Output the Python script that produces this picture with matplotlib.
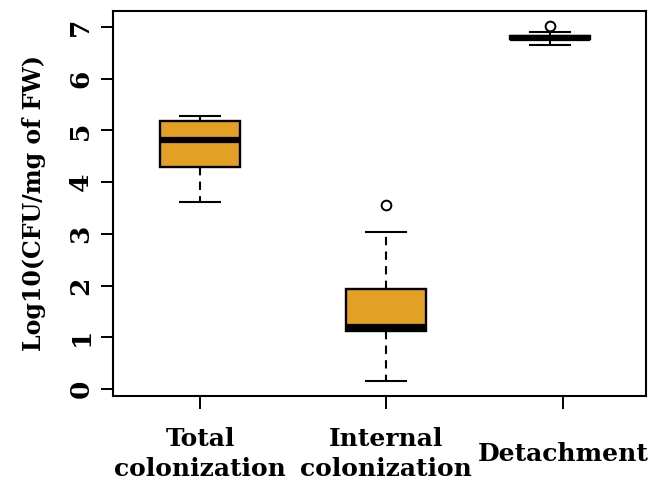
import numpy as np
import matplotlib
matplotlib.use("Agg")
import matplotlib.pyplot as plt

# --- data (log10 CFU/mg FW) ---
groups = ["Total\ncolonization", "Internal\ncolonization", "Detachment"]
medians = [4.82, 1.20, 6.79]
q1 = [4.29, 1.13, 6.76]
q3 = [5.18, 1.93, 6.82]
whis_lo = [3.62, 0.16, 6.65]
whis_hi = [5.28, 3.03, 6.91]
outliers = [[], [3.56], [7.02]]

box_pos = [1, 2, 2.88]
tick_pos = [1, 2, 2.95]
fill = "#E2A024"

plt.rcParams["font.family"] = ["DejaVu Serif"]
plt.rcParams["font.weight"] = "bold"

fig = plt.figure(figsize=(6.49, 4.84), dpi=100)
ax = fig.add_axes([112.7 / 649, 1 - 395.7 / 484, (646 - 112.7) / 649, (395.7 - 11) / 484])

stats = []
for i in range(len(groups)):
    stats.append(dict(med=medians[i], q1=q1[i], q3=q3[i],
                      whislo=whis_lo[i], whishi=whis_hi[i], fliers=outliers[i]))

ax.bxp(stats, positions=box_pos, widths=0.43, capwidths=0.215, patch_artist=True,
       boxprops=dict(facecolor=fill, edgecolor="black", linewidth=1.7),
       medianprops=dict(color="black", linewidth=4.5, solid_capstyle="butt"),
       whiskerprops=dict(color="black", linewidth=1.5, linestyle=(0, (4, 3))),
       capprops=dict(color="black", linewidth=1.5),
       flierprops=dict(marker="o", markersize=7, markerfacecolor="none",
                       markeredgecolor="black", markeredgewidth=1.4))

ax.set_xlim(0.531, 3.396)
ax.set_ylim(-0.13, 7.31)

ax.set_xticks(tick_pos)
ax.set_xticklabels(groups, fontsize=18, fontweight="bold", va="center", linespacing=1.36)
ax.tick_params(axis="x", length=9, width=1.4, pad=33)
ax.set_yticks(range(0, 8))
ax.set_yticklabels([str(v) for v in range(0, 8)], fontsize=19, fontweight="bold",
                   rotation=90, va="center")
ax.tick_params(axis="y", length=9, width=1.4, pad=5)

for s in ax.spines.values():
    s.set_linewidth(1.5)

ax.set_ylabel("Log10(CFU/mg of FW)", fontsize=17, fontweight="bold", labelpad=16)

fig.savefig("out.png", dpi=100)
